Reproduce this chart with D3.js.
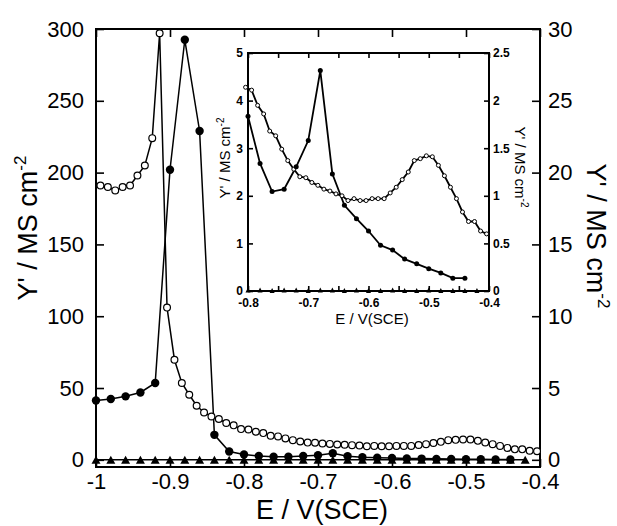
<!DOCTYPE html>
<html>
<head>
<meta charset="utf-8">
<script src="https://cdn.jsdelivr.net/npm/d3@7"></script>
<style>
    body { margin: 0; background: #fff; }
    text { font-family: "Liberation Sans", Arial, Helvetica, sans-serif; }
</style>
</head>
<body>
<script>
// filled circles, left axis (Y' / MS cm-2, 0-300)
const filledE = [-1, -0.98, -0.96, -0.94, -0.92, -0.9, -0.88, -0.86, -0.84, -0.82,
    -0.8, -0.78, -0.76, -0.74, -0.72, -0.7, -0.68, -0.66, -0.64, -0.62,
    -0.6, -0.58, -0.56, -0.54, -0.52, -0.5, -0.48, -0.46, -0.44]
const filledY = [41.3, 42.3, 44.2, 46.9, 53.5, 202, 292.5, 229, 17.4, 5.8,
    3.67, 2.68, 2.09, 2.14, 2.61, 3.16, 4.63, 2.46, 1.80, 1.52,
    1.26, 0.96, 0.86, 0.67, 0.57, 0.47, 0.38, 0.27, 0.27]

// open circles, right axis (Y' / MS cm-2, 0-30)
const openE = [-0.994, -0.984, -0.974, -0.964, -0.954, -0.944, -0.934, -0.924, -0.914, -0.904,
    -0.894, -0.884, -0.874, -0.864, -0.854, -0.844, -0.834, -0.824, -0.814, -0.804,
    -0.794, -0.784, -0.774, -0.764, -0.754, -0.744, -0.734, -0.724, -0.714, -0.704,
    -0.694, -0.684, -0.674, -0.664, -0.654, -0.644, -0.634, -0.624, -0.614, -0.604,
    -0.594, -0.584, -0.574, -0.564, -0.554, -0.544, -0.534, -0.524, -0.514, -0.504,
    -0.494, -0.484, -0.474, -0.464, -0.454, -0.444, -0.434, -0.424, -0.414, -0.404]
const openY = [19.1, 19.0, 18.76, 19.0, 19.1, 19.8, 20.5, 22.4, 29.7, 10.6,
    6.97, 5.35, 4.53, 3.77, 3.3, 3.02, 2.84, 2.56, 2.40, 2.14,
    2.11, 1.95, 1.86, 1.68, 1.63, 1.49, 1.37, 1.28, 1.20, 1.19,
    1.14, 1.11, 1.07, 1.05, 1.02, 1.00, 0.95, 0.97, 0.95, 0.95,
    0.97, 0.97, 0.97, 1.03, 1.09, 1.17, 1.25, 1.37, 1.39, 1.42,
    1.41, 1.32, 1.21, 1.09, 0.97, 0.83, 0.73, 0.73, 0.63, 0.60]

// triangles, left axis
const triE = [-1, -0.98, -0.96, -0.94, -0.92, -0.9, -0.88, -0.86, -0.84, -0.82,
    -0.8, -0.78, -0.76, -0.74, -0.72, -0.7, -0.68, -0.66, -0.64, -0.62,
    -0.6, -0.58, -0.56, -0.54, -0.52, -0.5, -0.48, -0.46, -0.44, -0.42]
const triY = [0.03, 0.02, 0.03, 0.02, 0.02, 0.03, 0.02, 0.02, 0.03, 0.02,
    0.02, 0.02, 0.01, 0.02, 0.02, 0.01, 0.02, 0.02, 0.01, 0.02,
    0.01, 0.01, 0.02, 0.01, 0.01, 0.02, 0.01, 0.01, 0.01, 0.01]

const xTicks = [-1, -0.9, -0.8, -0.7, -0.6, -0.5, -0.4]
const leftTicks = [0, 50, 100, 150, 200, 250, 300]
const rightTicks = [0, 5, 10, 15, 20, 25, 30]
const insetXTicks = [-0.8, -0.7, -0.6, -0.5, -0.4]
const insetXMinor = [-0.75, -0.65, -0.55, -0.45]
const insetLeftTicks = [0, 1, 2, 3, 4, 5]
const insetRightTicks = [0, 0.5, 1, 1.5, 2, 2.5]

const width = 617
const height = 526

const filled = filledE.map((e, i) => ({e: e, v: filledY[i]}))
const open = openE.map((e, i) => ({e: e, v: openY[i]}))
const tri = triE.map((e, i) => ({e: e, v: triY[i]}))

const fmtE = d => d === -1 ? '-1' : d.toFixed(1)
const fmtY = d => String(d)

const svg = d3.select('body')
    .append('svg')
    .attr('width', width)
    .attr('height', height)

function triPath(w, h) {
    return 'M0,' + (-h / 2) + 'L' + (w / 2) + ',' + (h / 2) + 'L' + (-w / 2) + ',' + (h / 2) + 'Z'
}

function styleAxis(g, size, weight) {
    g.attr('font-family', null).attr('font-size', size)
    g.select('.domain').remove()
    g.selectAll('line').attr('stroke', '#000').attr('stroke-width', 1.6)
    g.selectAll('text').attr('fill', '#000').attr('font-weight', weight || 'normal')
}

// main plot
const x = d3.scaleLinear().domain([-1, -0.4]).range([96, 540])
const yL = d3.scaleLinear().domain([-5, 300]).range([467, 29])
const yR = d3.scaleLinear().domain([-0.5, 30]).range([467, 29])

svg.append('g')
    .attr('transform', 'translate(0,467)')
    .call(d3.axisBottom(x).tickValues(xTicks).tickSize(-8).tickPadding(6).tickFormat(fmtE))
    .call(g => styleAxis(g, 22))
svg.append('g')
    .attr('transform', 'translate(0,29)')
    .call(d3.axisTop(x).tickValues(xTicks).tickSize(-8).tickFormat(''))
    .call(g => styleAxis(g, 22))
svg.append('g')
    .attr('transform', 'translate(96,0)')
    .call(d3.axisLeft(yL).tickValues(leftTicks).tickSize(-8).tickPadding(12).tickFormat(fmtY))
    .call(g => styleAxis(g, 22))
svg.append('g')
    .attr('transform', 'translate(540,0)')
    .call(d3.axisRight(yR).tickValues(rightTicks).tickSize(-8).tickPadding(8).tickFormat(fmtY))
    .call(g => styleAxis(g, 22))

svg.append('rect')
    .attr('x', x(-1)).attr('y', yL(300))
    .attr('width', x(-0.4) - x(-1)).attr('height', yL(-5) - yL(300))
    .attr('fill', 'none').attr('stroke', '#000').attr('stroke-width', 2)

const main = svg.append('g')

main.append('path')
    .datum(open)
    .attr('fill', 'none').attr('stroke', '#000').attr('stroke-width', 1.5)
    .attr('d', d3.line().x(d => x(d.e)).y(d => yR(d.v)))
main.append('path')
    .datum(filled)
    .attr('fill', 'none').attr('stroke', '#000').attr('stroke-width', 1.5)
    .attr('d', d3.line().x(d => x(d.e)).y(d => yL(d.v)))
main.append('path')
    .datum(tri)
    .attr('fill', 'none').attr('stroke', '#000').attr('stroke-width', 1.5)
    .attr('d', d3.line().x(d => x(d.e)).y(d => yL(d.v)))

main.selectAll('.open')
    .data(open)
    .enter()
    .append('circle')
    .attr('cx', d => x(d.e)).attr('cy', d => yR(d.v))
    .attr('r', 3.4)
    .attr('fill', '#fff').attr('stroke', '#000').attr('stroke-width', 1.2)
main.selectAll('.filled')
    .data(filled)
    .enter()
    .append('circle')
    .attr('cx', d => x(d.e)).attr('cy', d => yL(d.v))
    .attr('r', 4.2)
    .attr('fill', '#000')
main.selectAll('.tri')
    .data(tri)
    .enter()
    .append('path')
    .attr('d', triPath(9, 8))
    .attr('transform', d => 'translate(' + x(d.e) + ',' + yL(d.v) + ')')
    .attr('fill', '#000')

// main labels
svg.append('text')
    .attr('transform', 'translate(322,519)')
    .attr('text-anchor', 'middle')
    .attr('font-size', 27)
    .text('E / V(SCE)')

const yLabelL = svg.append('text')
    .attr('transform', 'translate(37,228) rotate(-90)')
    .attr('text-anchor', 'middle')
    .attr('font-size', 27)
yLabelL.append('tspan').text("Y' / MS cm")
yLabelL.append('tspan').attr('dy', -11).attr('font-size', 17).text('-2')

const yLabelR = svg.append('text')
    .attr('transform', 'translate(587,236) rotate(90)')
    .attr('text-anchor', 'middle')
    .attr('font-size', 27)
yLabelR.append('tspan').text("Y' / MS cm")
yLabelR.append('tspan').attr('dy', -11).attr('font-size', 17).text('-2')

// inset
const ix = d3.scaleLinear().domain([-0.8, -0.4]).range([248, 489])
const iyL = d3.scaleLinear().domain([0, 5]).range([291, 53])
const iyR = d3.scaleLinear().domain([0, 2.5]).range([291, 53])

const inset = svg.append('g')

inset.append('rect')
    .attr('x', ix(-0.8)).attr('y', iyL(5))
    .attr('width', ix(-0.4) - ix(-0.8)).attr('height', iyL(0) - iyL(5))
    .attr('fill', '#fff')

inset.append('g')
    .attr('transform', 'translate(0,291)')
    .call(d3.axisBottom(ix).tickValues(insetXTicks.concat(insetXMinor)).tickSize(-5).tickPadding(7)
        .tickFormat(d => insetXTicks.includes(d) ? fmtE(d) : ''))
    .call(g => styleAxis(g, 12, 'bold'))
inset.append('g')
    .attr('transform', 'translate(0,53)')
    .call(d3.axisTop(ix).tickValues(insetXTicks.concat(insetXMinor)).tickSize(-5).tickFormat(''))
    .call(g => styleAxis(g, 12, 'bold'))
inset.append('g')
    .attr('transform', 'translate(248,0)')
    .call(d3.axisLeft(iyL).tickValues(insetLeftTicks).tickSize(-5).tickPadding(5).tickFormat(fmtY))
    .call(g => styleAxis(g, 12, 'bold'))
inset.append('g')
    .attr('transform', 'translate(489,0)')
    .call(d3.axisRight(iyR).tickValues(insetRightTicks).tickSize(-5).tickPadding(4).tickFormat(fmtY))
    .call(g => styleAxis(g, 12, 'bold'))

inset.append('rect')
    .attr('x', ix(-0.8)).attr('y', iyL(5))
    .attr('width', ix(-0.4) - ix(-0.8)).attr('height', iyL(0) - iyL(5))
    .attr('fill', 'none').attr('stroke', '#000').attr('stroke-width', 2)

const iOpen = open.filter(d => d.e >= -0.805)
const iFilled = filled.filter(d => d.e >= -0.8)
const iTri = tri.filter(d => d.e >= -0.8)

inset.append('path')
    .datum(iOpen)
    .attr('fill', 'none').attr('stroke', '#000').attr('stroke-width', 1.8)
    .attr('d', d3.line().x(d => ix(d.e)).y(d => iyR(d.v)))
inset.append('path')
    .datum(iFilled)
    .attr('fill', 'none').attr('stroke', '#000').attr('stroke-width', 1.8)
    .attr('d', d3.line().x(d => ix(d.e)).y(d => iyL(d.v)))

inset.selectAll('.iopen')
    .data(iOpen)
    .enter()
    .append('circle')
    .attr('cx', d => ix(d.e)).attr('cy', d => iyR(d.v))
    .attr('r', 2)
    .attr('fill', '#fff').attr('stroke', '#000').attr('stroke-width', 1)
inset.selectAll('.ifilled')
    .data(iFilled)
    .enter()
    .append('circle')
    .attr('cx', d => ix(d.e)).attr('cy', d => iyL(d.v))
    .attr('r', 2.5)
    .attr('fill', '#000')
inset.selectAll('.itri')
    .data(iTri)
    .enter()
    .append('path')
    .attr('d', triPath(5, 5))
    .attr('transform', d => 'translate(' + ix(d.e) + ',' + iyL(d.v) + ')')
    .attr('fill', '#000')

inset.append('text')
    .attr('transform', 'translate(372,324)')
    .attr('text-anchor', 'middle')
    .attr('font-size', 15)
    .text('E / V(SCE)')

const iyLabelL = inset.append('text')
    .attr('transform', 'translate(230,158) rotate(-90)')
    .attr('text-anchor', 'middle')
    .attr('font-size', 15)
iyLabelL.append('tspan').text("Y' / MS cm")
iyLabelL.append('tspan').attr('dy', -6).attr('font-size', 10).text('-2')

const iyLabelR = inset.append('text')
    .attr('transform', 'translate(515,167) rotate(90)')
    .attr('text-anchor', 'middle')
    .attr('font-size', 15)
iyLabelR.append('tspan').text("Y' / MS cm")
iyLabelR.append('tspan').attr('dy', -6).attr('font-size', 10).text('-2')
</script>
</body>
</html>
